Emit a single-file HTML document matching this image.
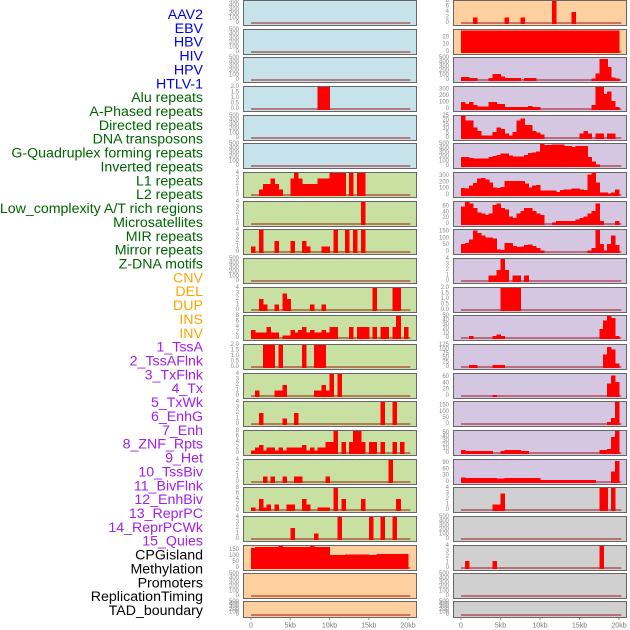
<!DOCTYPE html>
<html><head><meta charset="utf-8"><style>
body{margin:0;background:#fff;}
svg{display:block;font-family:"Liberation Sans",sans-serif;}
</style></head><body>
<svg id="chart" width="630" height="630" viewBox="0 0 630 630" xmlns="http://www.w3.org/2000/svg"></svg>
<script>
// ---- labels ----
const trackLabels = ["AAV2","EBV","HBV","HIV","HPV","HTLV-1","Alu repeats","A-Phased repeats","Directed repeats","DNA transposons","G-Quadruplex forming repeats","Inverted repeats","L1 repeats","L2 repeats","Low_complexity A/T rich regions","Microsatellites","MIR repeats","Mirror repeats","Z-DNA motifs","CNV","DEL","DUP","INS","INV","1_TssA","2_TssAFlnk","3_TxFlnk","4_Tx","5_TxWk","6_EnhG","7_Enh","8_ZNF_Rpts","9_Het","10_TssBiv","11_BivFlnk","12_EnhBiv","13_ReprPC","14_ReprPCWk","15_Quies","CPGisland","Methylation","Promoters","ReplicationTiming","TAD_boundary"];
const labelColors = ["#0000ee","#0000ee","#0000ee","#0000ee","#0000ee","#0000ee","#006400","#006400","#006400","#006400","#006400","#006400","#006400","#006400","#006400","#006400","#006400","#006400","#006400","#ffa500","#ffa500","#ffa500","#ffa500","#ffa500","#a020f0","#a020f0","#a020f0","#a020f0","#a020f0","#a020f0","#a020f0","#a020f0","#a020f0","#a020f0","#a020f0","#a020f0","#a020f0","#a020f0","#a020f0","#000","#000","#000","#000","#000"];
const xTickValues = [0,5,10,15,20];
const xTickLabels = ["0","5kb","10kb","15kb","20kb"];
const binKb = 0.5;
// ---- tick sets ----
const T500 = [0,100,200,300,400,500];
const T2 = [0,0.5,1,1.5,2];
const T4 = [0,1,2,3,4];
const T8 = [0,2,4,6,8];
const T150 = [0,50,100,150];
// ---- left column series ----
const L3 = [0,0,0,0,0,0,0,0,0,0, 0,0,0,0,0,0,0,2,2,2, 0,0,0,0,0,0,0,0,0,0, 0,0,0,0,0,0,0,0,0,0];
const L6 = [0,0,1,2,2,3,2,1,0,0, 3,4,3,2,2,2,2,3,3,3, 4,4,4,4,0,4,0,4,4,0, 0,0,0,0,0,0,0,0,0,0];
const L7 = [0,0,0,0,0,0,0,0,0,0, 0,0,0,0,0,0,0,0,0,0, 0,0,0,0,0,0,0,0,4,0, 0,0,0,0,0,0,0,0,0,0];
const L8 = [1,0,4,0,0,0,2,0,0,0, 2,0,0,2,1,0,0,0,1,1, 0,4,0,0,4,0,4,0,4,0, 0,0,0,0,0,0,0,0,0,0];
const L10 = [0,0,2,1,0,0,1,0,3,2, 0,0,0,0,0,1,0,0,1,0, 0,0,0,0,0,0,0,0,0,0, 0,4,0,0,0,0,4,4,0,0];
const L11 = [3,2,2,2,4,2,2,0,1,1, 3,2,3,4,2,3,2,2,3,2, 4,4,0,0,0,4,0,4,4,4, 0,4,0,4,4,0,4,8,0,4];
const L12 = [0,0,0,2,2,2,0,2,0,0, 0,0,0,2,0,0,2,2,2,0, 0,0,0,0,0,0,0,0,0,0, 0,0,0,0,0,0,0,0,0,0];
const L13 = [0,1,0,0,0,0,1,1,2,0, 0,0,0,0,0,0,1,1,2,1, 4,0,4,0,0,0,0,0,0,0, 0,0,0,0,0,0,0,0,0,0];
const L14 = [0,0,2,0,0,0,0,0,1,0, 0,2,0,0,0,0,0,0,0,0, 0,0,0,0,0,0,0,0,0,0, 0,0,0,4,0,0,4,0,0,0];
const L15 = [1,2,3,1,2,2,1,2,1,2, 2,2,2,3,1,2,1,2,2,4, 4,8,0,4,0,4,8,8,4,0, 4,4,0,4,0,0,4,0,4,0];
const L16 = [0,0,0,1,0,1,0,0,1,0, 0,1,1,0,0,0,0,0,0,1, 0,0,0,0,0,0,0,0,0,0, 0,0,0,0,0,4,0,0,0,0];
const L17 = [1,0,4,1,2,0,2,0,0,2, 2,0,0,4,2,0,0,1,1,1, 0,8,0,4,0,0,0,0,4,0, 0,0,0,0,0,0,0,4,0,0];
const L18 = [0,0,0,0,0,0,0,0,0,0, 2,0,0,0,0,0,1,0,0,0, 0,0,4,0,0,0,0,0,0,0, 4,0,0,4,0,0,4,0,0,0];
const L19 = [170,178,178,178,178,178,178,185,178,178, 178,178,178,178,178,185,178,178,178,178, 110,110,110,110,115,115,115,115,115,115, 110,110,118,118,118,118,118,118,118,118];
// ---- right column series ----
const R0 = [0,0,0,2,0,0,0,0,0,0, 0,2,0,0,0,2,0,0,0,0, 0,0,0,8,0,0,0,0,4,0, 0,0,0,0,0,0,0,0,0,0];
const R1 = [29,29,29,29,29,29,29,29,29,29, 29,29,29,29,29,29,29,29,29,29, 29,29,29,29,29,29,29,29,29,29, 29,29,29,29,29,29,29,29,29,29];
const R2 = [70,70,50,50,0,0,0,50,140,140, 80,50,50,50,50,0,50,50,50,0, 0,0,0,0,0,0,0,0,0,0, 0,0,0,30,150,480,480,300,60,30];
const R3 = [110,80,110,60,40,40,40,110,110,80, 80,30,30,30,30,30,30,50,30,30, 0,0,0,0,0,0,0,0,0,0, 0,0,0,60,340,340,230,270,120,30];
const R4 = [25,20,20,12,8,3,3,3,7,12, 10,5,3,7,20,22,15,15,8,6, 4,0,0,0,0,0,0,0,0,0, 5,8,5,0,5,5,0,5,5,0];
const R5 = [200,200,180,170,170,170,170,200,230,250, 280,280,240,220,220,220,250,300,310,330, 500,480,480,490,490,490,450,450,430,460, 460,460,200,100,30,0,0,0,0,0];
const R6 = [110,100,150,190,260,270,250,200,120,110, 130,220,220,220,220,220,180,120,150,160, 70,70,70,70,50,80,90,90,100,100, 90,80,330,350,200,40,40,20,40,90];
const R7 = [60,75,70,55,40,35,30,35,65,70, 55,50,25,20,35,45,55,55,45,35, 30,0,0,5,10,10,10,10,10,15, 20,25,35,45,70,10,0,0,0,10];
const R8 = [60,65,90,155,140,120,105,105,100,20, 15,65,65,45,35,40,50,55,45,30, 10,0,0,0,0,0,0,0,0,0, 0,0,10,30,160,60,10,60,120,50];
const R9 = [0,0,0,0,0,0,0,1,1,2, 4,2,0,1,1,0,1,0,0,0, 0,0,0,0,0,0,0,0,0,0, 0,0,0,0,0,0,0,0,0,0];
const R10 = [0,0,0,0,0,0,0,0,0,0, 2,2,2,2,2,0,0,0,0,0, 0,0,0,0,0,0,0,0,0,0, 0,0,0,0,0,0,0,0,0,0];
const R11 = [0,0,5,0,0,0,0,0,5,8, 5,0,0,0,0,0,0,0,0,0, 0,0,0,0,0,0,0,0,0,0, 0,0,0,0,0,20,40,50,45,5];
const R12 = [0,0,10,10,0,0,0,0,10,10, 10,0,0,0,0,0,0,0,0,0, 0,0,0,0,0,0,0,0,0,0, 0,0,0,0,0,0,70,115,100,20];
const R13 = [0,0,0,0,0,0,0,0,3,0, 0,0,0,0,0,0,0,0,0,0, 0,0,0,0,0,0,0,0,0,0, 0,0,0,0,0,0,0,40,65,45];
const R14 = [0,0,0,0,0,0,0,0,0,0, 0,0,0,0,0,0,0,0,0,0, 0,0,0,0,0,0,0,0,0,0, 0,0,0,0,0,0,0,15,50,180];
const R15 = [8,5,5,5,5,5,5,5,0,0, 5,8,8,8,8,5,5,0,0,0, 0,0,0,0,0,0,0,0,0,0, 0,0,0,0,0,8,8,10,40,55];
const R16 = [22,20,20,20,20,20,20,20,20,17, 17,20,20,20,20,20,20,20,20,20, 10,10,10,10,10,10,10,10,10,10, 10,10,10,10,0,0,0,0,50,100];
const R17 = [0,0,0,0,0,0,0,0,1,1, 3,0,0,0,0,0,0,0,0,0, 0,0,0,0,0,0,0,0,0,0, 0,0,0,0,0,4,4,0,4,0];
const R19 = [0,1.3,0,0,0,0,0,0,1.3,0, 0,0,0,0,0,0,0,0,0,0, 0,0,0,0,0,0,0,0,0,0, 0,0,0,0,0,4,0,0,0,0];
// ---- layout ----
const rowTops = [0,29,57,86,115,143,172,201,229,258,287,315,344,373,401,430,459,487,516,545,573,601];
const BLUE="#c6e3eb", GREEN="#c8e0a2", ORANGE="#ffd09f", PURPLE="#d5c6e2", GRAY="#d0d0d0";
const cols = [
 {x0:243,x1:416,z:251,px:7.85,tx:239,panels:[
  [BLUE,[],500,T500],[BLUE,[],500,T500],[BLUE,[],500,T500],[BLUE,L3,2,T2],[BLUE,[],500,T500],[BLUE,[],500,T500],
  [GREEN,L6,4,T4],[GREEN,L7,4,T4],[GREEN,L8,4,T4],[GREEN,[],500,T500],[GREEN,L10,4,T4],[GREEN,L11,8,T8],
  [GREEN,L12,2,T2],[GREEN,L13,4,T4],[GREEN,L14,4,T4],[GREEN,L15,8,T8],[GREEN,L16,4,T4],[GREEN,L17,8,T8],[GREEN,L18,4,T4],
  [ORANGE,L19,185,T150],[ORANGE,[],500,T500],[ORANGE,[],500,T500]]},
 {x0:453,x1:626,z:461,px:7.9,tx:449,panels:[
  [ORANGE,R0,8,T8],[ORANGE,R1,30,[0,10,20]],[PURPLE,R2,500,T500],[PURPLE,R3,340,[0,100,200,300]],[PURPLE,R4,25,[0,5,10,15,20,25]],
  [PURPLE,R5,500,T500],[PURPLE,R6,350,[0,100,200,300]],[PURPLE,R7,75,[0,20,40,60]],[PURPLE,R8,160,T150],[PURPLE,R9,4,T4],
  [PURPLE,R10,2,T2],[PURPLE,R11,50,[0,10,20,30,40,50]],[PURPLE,R12,125,[0,25,50,75,100,125]],[PURPLE,R13,70,[0,20,40,60]],
  [PURPLE,R14,180,T150],[PURPLE,R15,55,[0,10,20,30,40,50]],[PURPLE,R16,105,[0,30,60,90]],[GRAY,R17,4,T4],[GRAY,[],500,T500],
  [GRAY,R19,4,T4],[GRAY,[],500,T500],[GRAY,[],500,T500]]}
];
const svg = document.getElementById('chart');
const NS = "http://www.w3.org/2000/svg";
function mk(tag, attrs, parent){const e=document.createElementNS(NS,tag);for(const k in attrs)e.setAttribute(k,attrs[k]);(parent||svg).appendChild(e);return e;}
// labels
trackLabels.forEach((t,i)=>{
  const e = mk('text',{x:203,y:15+i*(596/43),'text-anchor':'end','dominant-baseline':'central','font-size':14.2,fill:labelColors[i]});
  
  
  e.textContent = t;
});
cols.forEach((c,ci)=>{
  const xs = kb => c.z + kb*c.px;
  c.panels.forEach((p,ri)=>{
    const top = rowTops[ri], h = ri===21?16:25, bot = top+h;
    const [bg, vals, ymax, ticks] = p;
    const y0 = bot-2, y1 = top+1;
    const ys = v => y0 - (v/ymax)*(y0-y1);
    const g = mk('g',{});
    
    
    const r = mk('rect',{x:c.x0+0.5,y:top+0.5,width:c.x1-c.x0,height:h,fill:bg,stroke:'#666','stroke-width':1},g);
    
    
    const bl = mk('line',{x1:xs(0),x2:xs(20.3),y1:y0,y2:y0,stroke:'rgba(150,0,0,0.45)','stroke-width':2},g);
    
    
    vals.forEach((v,i)=>{
      if(v<=0) return;
      const xa = xs(i*binKb), xb = xs((i+1)*binKb), yv = Math.max(ys(v), top+1);
      const b = mk('rect',{x:xa,y:yv,width:xb-xa+0.6,height:y0-yv+1,fill:'#ff0000','shape-rendering':'crispEdges'},g);
      
      
    });
    ticks.forEach(tv=>{
      const t = mk('text',{x:c.tx,y:ys(tv),'text-anchor':'end','dominant-baseline':'central','font-size':6,fill:'#888'},g);
      
      
      t.textContent = (ymax<=2 ? tv.toFixed(1) : String(tv));
    });
  });
  xTickValues.forEach((v,i)=>{
    const tk = mk('line',{x1:xs(v),x2:xs(v),y1:618,y2:620,stroke:'#999','stroke-width':1});
    
    
    const t = mk('text',{x:xs(v),y:626,'text-anchor':'middle','dominant-baseline':'central','font-size':7,fill:'#777'});
    
    
    t.textContent = xTickLabels[i];
  });
});
</script>
</body></html>
